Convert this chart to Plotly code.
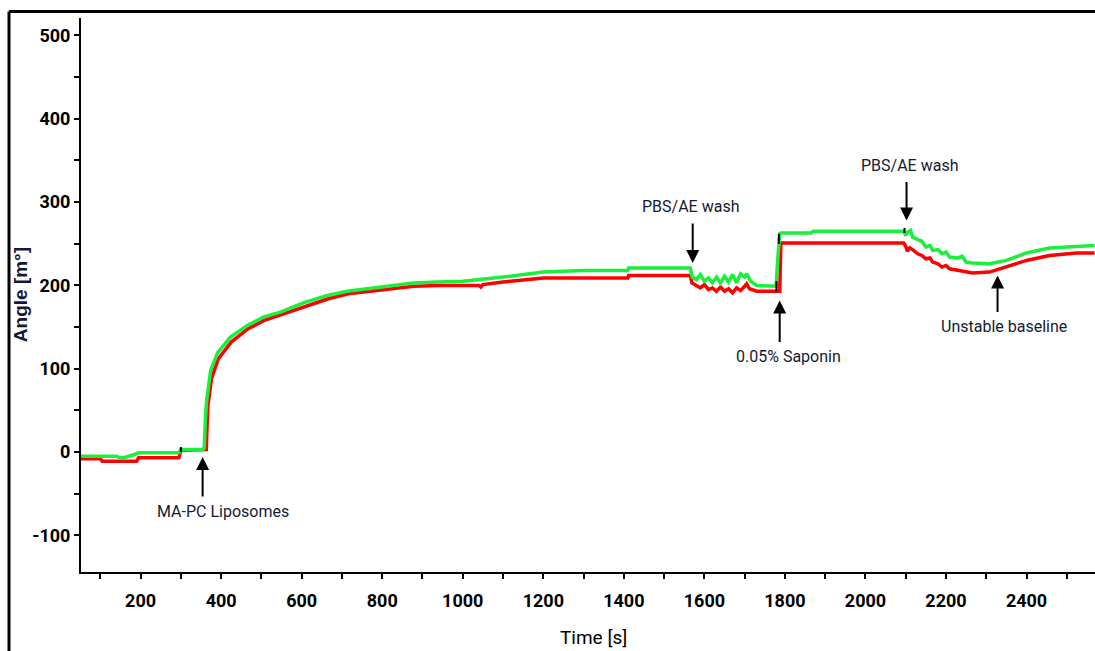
import plotly.graph_objects as go

# Sensor angle response during the liposome / saponin run
green_t = [52, 140, 150, 165, 185, 195, 295, 300, 355, 358, 361, 364, 374, 391, 423, 465, 505, 547,
           604, 664, 713, 795, 877, 937, 1000, 1100, 1200, 1300, 1410, 1412, 1565,
           1570, 1580, 1590, 1600, 1610, 1620, 1630, 1640, 1650, 1660, 1670, 1680, 1690, 1700,
           1705, 1715, 1730, 1760, 1778, 1782, 1787, 1790, 1865, 1870, 2095, 2100, 2105, 2112,
           2117, 2130, 2140, 2150, 2160, 2167, 2180, 2190, 2200, 2209, 2230, 2240, 2250, 2266,
           2308, 2350, 2400, 2457, 2524, 2569]
green_v = [-5, -5, -7, -6, -3, -1, -1, 3, 3, 5, 40, 62, 98, 119, 138, 152, 162, 168,
           179, 188, 193, 198, 203, 204, 205, 210, 216, 218, 218, 221, 221,
           210, 207, 213, 205, 209, 203, 210, 203, 211, 204, 213, 203, 214, 210,
           214, 205, 200, 199, 199, 230, 262, 263, 263, 265, 265, 260, 264, 266,
           258, 255, 253, 246, 248, 242, 243, 238, 240, 234, 233, 235, 228, 227,
           226, 230, 239, 245, 247, 248]

red_t = [52, 100, 105, 190, 195, 295, 300, 355, 358, 363, 365, 367, 376, 393, 425, 467, 507, 549,
         606, 666, 715, 797, 879, 939, 1040, 1045, 1050, 1100, 1200, 1410, 1412, 1565,
         1569, 1580, 1590, 1600, 1610, 1620, 1630, 1640, 1650, 1660, 1670, 1680, 1690, 1700,
         1705, 1712, 1730, 1760, 1787, 1790, 2095, 2100, 2104, 2110, 2117, 2130, 2140, 2150,
         2160, 2167, 2180, 2190, 2200, 2209, 2230, 2266, 2308, 2350, 2400, 2457, 2524, 2569]
red_v = [-8, -8, -11, -11, -7, -7, 2, 2, 3, 3, 30, 55, 88, 112, 132, 148, 158, 165,
         175, 184, 190, 195, 199, 200, 200, 198, 201, 204, 209, 209, 212, 212,
         203, 200, 197, 201, 195, 197, 193, 198, 193, 196, 191, 197, 194, 199,
         202, 196, 193, 193, 193, 251, 251, 247, 241, 245, 243, 238, 236, 232,
         233, 228, 226, 222, 224, 220, 218, 215, 216, 222, 230, 236, 239, 239]

# Injection event markers (time, low, high)
event_t = [300, 1779, 1785, 2097]
event_lo = [0, 193, 250, 263]
event_hi = [6, 205, 262, 269]

# Annotated steps: text, arrow tip time, arrow tip value, arrow length (px, + = text below)
note_text = ["MA-PC Liposomes", "PBS/AE wash", "0.05% Saponin", "PBS/AE wash", "Unstable baseline"]
note_t = [354, 1571, 1787, 2102, 2328]
note_v = [-6, 227, 182, 278, 212]
note_len = [41, -41, 43, -40, 38]
note_dx = [20, -2, 9, 3, 6]

x_ticks = [200, 400, 600, 800, 1000, 1200, 1400, 1600, 1800, 2000, 2200, 2400]
y_ticks = [-100, 0, 100, 200, 300, 400, 500]
y_tick_text = ["-100", "0", "100", "200", "300", "400", "500"]

FONT = "Roboto, Liberation Sans, sans-serif"
INK = "#141a33"

fig = go.Figure()
fig.add_trace(go.Scatter(x=red_t, y=red_v, mode="lines",
                         line=dict(color="#ff0000", width=3.5), showlegend=False))
fig.add_trace(go.Scatter(x=green_t, y=green_v, mode="lines",
                         line=dict(color="#19f03c", width=3.5), showlegend=False))

ev_x, ev_y = [], []
for t, lo, hi in zip(event_t, event_lo, event_hi):
    ev_x += [t, t, None]
    ev_y += [lo, hi, None]
fig.add_trace(go.Scatter(x=ev_x, y=ev_y, mode="lines",
                         line=dict(color="black", width=2), showlegend=False))

for txt, t, v, ln, dx in zip(note_text, note_t, note_v, note_len, note_dx):
    fig.add_annotation(x=t, y=v, text="", showarrow=True, ax=0, ay=ln,
                       arrowhead=2, arrowsize=1.3, arrowwidth=2, arrowcolor="black")
    shift = -(ln + 13) if ln > 0 else -ln + 15
    fig.add_annotation(x=t, y=v, text=txt, showarrow=False, xshift=dx, yshift=shift,
                       font=dict(family=FONT, size=16, color=INK))

# axis titles
fig.add_annotation(xref="paper", yref="paper", x=-0.060, y=0.50, xanchor="center", yanchor="middle",
                   text="Angle [m°]", textangle=-90, showarrow=False,
                   font=dict(family="Liberation Sans, Arial, sans-serif", size=19, color=INK, weight="bold"))
fig.add_annotation(xref="paper", yref="paper", x=0.505, y=-0.119, xanchor="center", yanchor="middle",
                   text="Time [s]", showarrow=False,
                   font=dict(family=FONT, size=19, color="black"))

# outer frame
fig.add_shape(type="line", xref="paper", yref="paper", x0=-0.071, x1=1.05, y0=1.0117, y1=1.0117,
              line=dict(color="black", width=3))
fig.add_shape(type="line", xref="paper", yref="paper", x0=-0.071, x1=-0.071, y0=-0.2, y1=1.0117,
              line=dict(color="black", width=3))

tick_font = dict(family=FONT, size=18, color="black", weight="bold")

fig.update_layout(
    width=1095, height=651,
    margin=dict(l=81, r=0, t=18, b=79),
    paper_bgcolor="white", plot_bgcolor="white",
    xaxis=dict(range=[52, 2570], tickvals=x_ticks, showgrid=False, zeroline=False,
               showline=True, linecolor="black", linewidth=2,
               ticks="outside", ticklen=5, tickwidth=1.5, tickcolor="black", ticklabelstandoff=6,
               minor=dict(dtick=100, tick0=0, ticks="outside", ticklen=5, tickwidth=1.5, tickcolor="black"),
               tickfont=tick_font),
    yaxis=dict(range=[-144, 521], tickvals=y_ticks, ticktext=y_tick_text, showgrid=False, zeroline=False,
               showline=True, linecolor="black", linewidth=2,
               ticks="outside", ticklen=5, tickwidth=1.5, tickcolor="black",
               minor=dict(dtick=50, tick0=0, ticks="outside", ticklen=5, tickwidth=1.5, tickcolor="black"),
               tickfont=tick_font),
)

fig.write_html("out.html")
